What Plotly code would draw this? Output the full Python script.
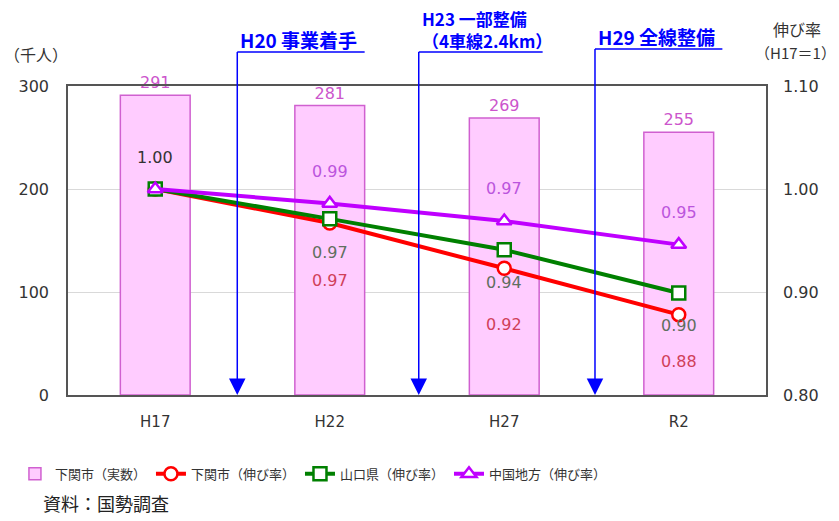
import plotly.graph_objects as go

# 年次カテゴリ
categories = ["H17", "H22", "H27", "R2"]

# 下関市の人口（千人）
population = [291, 281, 269, 255]

# 伸び率（H17=1）
shimonoseki_rate = [1.00, 0.967, 0.923, 0.878]
yamaguchi_rate = [1.00, 0.971, 0.941, 0.899]
chugoku_rate = [1.00, 0.986, 0.969, 0.946]

# 道路整備の経緯（カテゴリ間の位置）
events_pos = [0.47, 1.51, 2.52]

xs = list(range(len(categories)))
NUM_FONT = "DejaVu Sans, Noto Sans CJK JP"
JP_FONT = "Noto Sans CJK JP"

fig = go.Figure()

fig.add_trace(go.Bar(
    x=xs, y=population, name="下関市（実数）", width=0.4,
    marker=dict(color="#ffccff", line=dict(color="#d060d0", width=1.5)),
    text=[str(v) for v in population], textposition="outside",
    textfont=dict(color="#cc55cc", size=16, family=NUM_FONT),
    cliponaxis=False, yaxis="y",
))

line_specs = [
    (shimonoseki_rate, "下関市（伸び率）", "#ff0000", "circle"),
    (yamaguchi_rate, "山口県（伸び率）", "#008000", "square"),
    (chugoku_rate, "中国地方（伸び率）", "#bf00ff", "triangle-up"),
]
for vals, name, color, sym in line_specs:
    fig.add_trace(go.Scatter(
        x=xs, y=vals, name=name, mode="lines+markers", yaxis="y2",
        line=dict(color=color, width=4),
        marker=dict(symbol=sym, size=13, color="white",
                    line=dict(color=color, width=2.5)),
        cliponaxis=False,
    ))

annotations = []

# 伸び率のラベル
def rate_label(i, v, color, shift):
    annotations.append(dict(
        x=xs[i], y=v, xref="x", yref="y2", text=f"{v:.2f}", showarrow=False,
        yshift=shift, font=dict(color=color, size=16, family=NUM_FONT)))

rate_label(0, shimonoseki_rate[0], "#333333", 32)
for i in range(1, 4):
    rate_label(i, chugoku_rate[i], "#bb55dd", 32)
for i, s in zip(range(1, 4), [-34, -33, -32]):
    rate_label(i, yamaguchi_rate[i], "#5f6f5f", s)
for i, s in zip(range(1, 4), [-58, -56, -47]):
    rate_label(i, shimonoseki_rate[i], "#d0405a", s)

# 道路整備の経緯：矢印とテキスト
shapes = []
event_texts = ["H20 事業着手", "H23 一部整備<br>（4車線2.4km）", "H29 全線整備"]
bracket_len = [0.73, 0.71, 0.73]
top_y = [1.11, 1.11, 1.12]
text_size = [19, 17, 19]
for pos, text, blen, ty, fs in zip(events_pos, event_texts, bracket_len, top_y, text_size):
    shapes.append(dict(type="line", xref="x", yref="paper", x0=pos, x1=pos,
                       y0=ty, y1=0.03, line=dict(color="#0000ff", width=1.5)))
    shapes.append(dict(type="line", xref="x", yref="paper", x0=pos, x1=pos + blen,
                       y0=ty, y1=ty, line=dict(color="#0000ff", width=1.5)))
    annotations.append(dict(x=pos, y=0, xref="x", yref="y", ax=0, ay=-16,
                            showarrow=True, arrowhead=2, arrowsize=2.2, arrowwidth=1.5,
                            arrowcolor="#0000ff", text=""))
    annotations.append(dict(
        x=pos, y=ty, xref="x", yref="paper", xanchor="left", yanchor="bottom",
        xshift=1, yshift=-3, text=text, showarrow=False, align="left",
        font=dict(color="#0000ff", size=fs, family=JP_FONT, weight="bold")))

# 軸タイトル・出典
annotations += [
    dict(x=-0.046, y=1.105, xref="paper", yref="paper", xanchor="center", yanchor="middle",
         text="（千人）", showarrow=False,
         font=dict(size=16, color="#333333", family=JP_FONT)),
    dict(x=1.044, y=1.185, xref="paper", yref="paper", xanchor="center", yanchor="middle",
         text="伸び率", showarrow=False,
         font=dict(size=16, color="#333333", family=JP_FONT)),
    dict(x=1.042, y=1.108, xref="paper", yref="paper", xanchor="center", yanchor="middle",
         text="（H17＝1）", showarrow=False,
         font=dict(size=15, color="#333333", family=JP_FONT)),
    dict(x=-0.038, y=-0.35, xref="paper", yref="paper", xanchor="left", yanchor="middle",
         text="資料：国勢調査", showarrow=False,
         font=dict(size=18, color="#222222", family=JP_FONT)),
]

fig.update_layout(
    width=839, height=521,
    margin=dict(l=68, r=73, t=86, b=126, autoexpand=False),
    plot_bgcolor="white", paper_bgcolor="white",
    font=dict(family=NUM_FONT, color="#333333"),
    barmode="overlay",
    xaxis=dict(range=[-0.5, 3.5], tickvals=xs, ticktext=categories,
               showline=True, linecolor="#555555", linewidth=1.5, mirror=True,
               showgrid=False, ticks="", tickfont=dict(size=15, color="#333333"),
               ticklabelstandoff=12),
    yaxis=dict(range=[0, 300], dtick=100, showgrid=True, gridcolor="#d9d9d9",
               showline=True, linecolor="#555555", linewidth=1.5, mirror=True,
               zeroline=False, ticks="", tickfont=dict(size=16, color="#333333"),
               ticklabelstandoff=14),
    yaxis2=dict(range=[0.8, 1.1], dtick=0.1, tickformat=".2f", overlaying="y",
                side="right", showgrid=False, zeroline=False, ticks="",
                tickfont=dict(size=16, color="#333333"), ticklabelstandoff=16),
    legend=dict(orientation="h", x=-0.076, y=-0.255,
                xanchor="left", yanchor="middle",
                font=dict(size=13, family=JP_FONT, color="#333333"),
                itemwidth=30, tracegroupgap=0, traceorder="normal"),
    shapes=shapes, annotations=annotations,
)

fig.write_html("out.html")
